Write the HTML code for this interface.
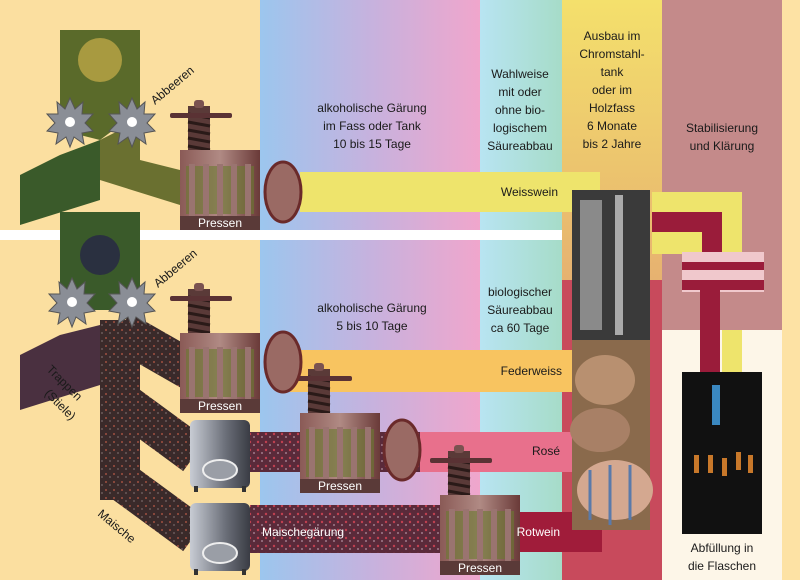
<!DOCTYPE html>
<html><head><meta charset="utf-8"><style>
html,body{margin:0;padding:0;background:#fbdfa0}
svg{display:block}
text{font-family:"Liberation Sans",sans-serif;font-size:12px;fill:#1a1a1a}
</style></head><body>
<svg width="800" height="580" viewBox="0 0 800 580" xmlns="http://www.w3.org/2000/svg">
<defs>
<linearGradient id="g1" x1="0" x2="1" y1="0" y2="0"><stop offset="0" stop-color="#9cc6ee"/><stop offset="0.5" stop-color="#c6b2de"/><stop offset="1" stop-color="#f0a6cc"/></linearGradient>
<linearGradient id="g2" x1="0" x2="1" y1="0" y2="0"><stop offset="0" stop-color="#b8e4f2"/><stop offset="1" stop-color="#a6dcc8"/></linearGradient>
<linearGradient id="g3" x1="0" x2="0" y1="0" y2="1"><stop offset="0" stop-color="#f4e06c"/><stop offset="0.5" stop-color="#e6b070"/><stop offset="1" stop-color="#d08a62"/></linearGradient>
<linearGradient id="pr" x1="0" x2="1"><stop offset="0" stop-color="#8a5a56"/><stop offset="0.5" stop-color="#b08a84"/><stop offset="1" stop-color="#6a3a38"/></linearGradient>
<linearGradient id="tk" x1="0" x2="1"><stop offset="0" stop-color="#c8ccd4"/><stop offset="0.6" stop-color="#6a6e78"/><stop offset="1" stop-color="#3a3c44"/></linearGradient>
<pattern id="must" width="8" height="8" patternUnits="userSpaceOnUse"><rect width="8" height="8" fill="#3a2a2a"/><circle cx="2" cy="2" r="1" fill="#a05040"/><circle cx="6" cy="5" r="1" fill="#6a5a5a"/></pattern>
<pattern id="mustr" width="8" height="8" patternUnits="userSpaceOnUse"><rect width="8" height="8" fill="#5a2a3a"/><circle cx="2" cy="2" r="1.2" fill="#c04050"/><circle cx="6" cy="5" r="1" fill="#a07a8a"/></pattern>
<g id="press">
<rect x="8" y="-44" width="22" height="46" fill="#5a3a38"/>
<path d="M8 -36 L30 -32 M8 -28 L30 -24 M8 -20 L30 -16 M8 -12 L30 -8 M8 -4 L30 0" stroke="#2a1a18" stroke-width="3"/>
<rect x="-10" y="-37" width="62" height="5" rx="2" fill="#5a3234"/>
<rect x="14" y="-50" width="10" height="8" rx="3" fill="#7a5250"/>
<rect x="0" y="0" width="80" height="80" fill="url(#pr)"/>
<rect x="6" y="16" width="68" height="48" fill="#6a7a30" opacity="0.6"/>
<path d="M12 14 V66 M26 14 V66 M40 14 V66 M54 14 V66 M68 14 V66" stroke="#9a7470" stroke-width="6"/>
<rect x="0" y="66" width="80" height="14" fill="#5a3a38"/>
</g>
<g id="tank">
<rect x="0" y="0" width="60" height="68" rx="6" fill="url(#tk)"/>
<ellipse cx="30" cy="50" rx="17" ry="10" fill="#9a9ea6" stroke="#eee" stroke-width="2"/>
<rect x="4" y="66" width="4" height="6" fill="#333"/><rect x="52" y="66" width="4" height="6" fill="#333"/>
</g>
<g id="gear">
<polygon points="0,-24 5,-13 13,-20 12,-8 23,-8 15,1 23,9 12,11 14,22 4,15 0,25 -4,15 -14,22 -12,11 -23,9 -15,1 -23,-8 -12,-8 -13,-20 -5,-13" fill="#8a8e96" stroke="#555" stroke-width="1"/>
<circle r="5" fill="#fff"/>
</g>
</defs>
<rect x="0" y="0" width="260" height="580" fill="#fbdfa0"/>
<rect x="260" y="0" width="220" height="580" fill="url(#g1)"/>
<rect x="480" y="0" width="82" height="580" fill="url(#g2)"/>
<rect x="562" y="0" width="100" height="580" fill="url(#g3)"/>
<rect x="662" y="0" width="120" height="580" fill="#c48a8a"/>
<rect x="782" y="0" width="18" height="580" fill="#fde2a4"/>
<rect x="562" y="280" width="100" height="300" fill="#c84a5c"/>
<rect x="0" y="230" width="562" height="10" fill="#fff"/>
<rect x="662" y="330" width="120" height="250" fill="#fdf6e8"/>
<rect x="300" y="172" width="300" height="40" fill="#eee46c"/>
<rect x="652" y="192" width="90" height="62" fill="#eee46c"/>
<rect x="652" y="212" width="70" height="20" fill="#9a1c3a"/>
<rect x="702" y="212" width="20" height="42" fill="#9a1c3a"/>
<rect x="682" y="252" width="82" height="40" fill="#f0c8cc"/>
<rect x="682" y="262" width="82" height="8" fill="#9a1c3a"/>
<rect x="682" y="280" width="82" height="10" fill="#9a1c3a"/>
<rect x="700" y="290" width="20" height="82" fill="#9a1c3a"/>
<rect x="722" y="330" width="20" height="42" fill="#eee46c"/>
<rect x="290" y="350" width="282" height="42" fill="#f8c460"/>
<rect x="410" y="432" width="162" height="40" fill="#e8708c"/>
<rect x="250" y="432" width="170" height="40" fill="url(#mustr)"/>
<rect x="500" y="512" width="102" height="40" fill="#a01c3a"/>
<rect x="250" y="505" width="230" height="48" fill="url(#mustr)"/>
<rect x="572" y="190" width="78" height="150" fill="#3a3a3a"/>
<rect x="580" y="200" width="22" height="130" fill="#8a8a8a"/>
<rect x="615" y="195" width="8" height="140" fill="#aaa"/>
<rect x="572" y="340" width="78" height="190" fill="#8a6a4c"/>
<ellipse cx="605" cy="380" rx="30" ry="25" fill="#b89070"/>
<ellipse cx="600" cy="430" rx="30" ry="22" fill="#a88066"/>
<ellipse cx="615" cy="490" rx="38" ry="30" fill="#d4a890"/>
<path d="M590 470 V520 M610 465 V525 M630 465 V520" stroke="#5a7aaa" stroke-width="3"/>
<rect x="682" y="372" width="80" height="162" fill="#111"/>
<rect x="712" y="385" width="8" height="40" fill="#3a88c0"/>
<g fill="#c8782a"><rect x="694" y="455" width="5" height="18"/><rect x="708" y="455" width="5" height="18"/><rect x="722" y="458" width="5" height="18"/><rect x="736" y="452" width="5" height="18"/><rect x="748" y="455" width="5" height="18"/></g>
<polygon points="60,30 140,30 140,110 100,140 60,130" fill="#5a6a2a"/>
<circle cx="100" cy="60" r="22" fill="#a89a40"/>
<polygon points="20,175 60,155 100,140 100,200 20,225" fill="#3a5a2a"/>
<polygon points="100,140 140,120 140,160 180,170 180,205 100,180" fill="#6a7030"/>
<polygon points="60,212 140,212 140,310 60,310" fill="#3a5a2a"/>
<circle cx="100" cy="255" r="20" fill="#2a3040"/>
<polygon points="20,355 60,335 100,325 100,385 20,410" fill="#4a3040"/>
<path d="M120 320 V500 M120 330 L190 370 M120 400 L195 455 M120 480 L195 535" stroke="url(#must)" stroke-width="40" fill="none" stroke-linejoin="miter"/>
<use href="#gear" x="70" y="122"/><use href="#gear" x="132" y="122"/>
<use href="#gear" x="72" y="302"/><use href="#gear" x="132" y="302"/>
<use href="#tank" x="190" y="420"/><use href="#tank" x="190" y="503"/>
<use href="#press" x="180" y="150"/>
<use href="#press" x="180" y="333"/>
<use href="#press" x="300" y="413"/>
<use href="#press" x="440" y="495"/>
<g fill="#9a6a64" stroke="#6a2a2a" stroke-width="3">
<ellipse cx="283" cy="192" rx="18" ry="30"/><ellipse cx="283" cy="362" rx="18" ry="30"/><ellipse cx="402" cy="450" rx="18" ry="30"/>
</g>
<g>
<text x="220" y="227" text-anchor="middle" style="fill:#fff">Pressen</text>
<text x="220" y="410" text-anchor="middle" style="fill:#fff">Pressen</text>
<text x="340" y="490" text-anchor="middle" style="fill:#fff">Pressen</text>
<text x="480" y="572" text-anchor="middle" style="fill:#fff">Pressen</text>
</g>
<g text-anchor="middle">
<text x="372" y="112">alkoholische Gärung</text>
<text x="372" y="130">im Fass oder Tank</text>
<text x="372" y="148">10 bis 15 Tage</text>
<text x="520" y="78">Wahlweise</text><text x="520" y="96">mit oder</text><text x="520" y="114">ohne bio-</text><text x="520" y="132">logischem</text><text x="520" y="150">Säureabbau</text>
<text x="612" y="40">Ausbau im</text><text x="612" y="58">Chromstahl-</text><text x="612" y="76">tank</text><text x="612" y="94">oder im</text><text x="612" y="112">Holzfass</text><text x="612" y="130">6 Monate</text><text x="612" y="148">bis 2 Jahre</text>
<text x="722" y="132">Stabilisierung</text><text x="722" y="150">und Klärung</text>
<text x="372" y="312">alkoholische Gärung</text><text x="372" y="330">5 bis 10 Tage</text>
<text x="520" y="296">biologischer</text><text x="520" y="314">Säureabbau</text><text x="520" y="332">ca 60 Tage</text>
<text x="722" y="552">Abfüllung in</text><text x="722" y="570">die Flaschen</text>
</g>
<g text-anchor="end">
<text x="558" y="196">Weisswein</text>
<text x="562" y="375">Federweiss</text>
<text x="560" y="455">Rosé</text>
<text x="560" y="536" style="fill:#fff">Rotwein</text>
</g>
<text x="262" y="536" style="fill:#fff">Maischegärung</text>
<text transform="translate(155,105) rotate(-40)">Abbeeren</text>
<text transform="translate(158,288) rotate(-40)">Abbeeren</text>
<text transform="translate(46,370) rotate(45)">Trappen</text>
<text transform="translate(44,394) rotate(45)">(Stiele)</text>
<text transform="translate(97,515) rotate(40)">Maische</text>
</svg>
</body></html>
